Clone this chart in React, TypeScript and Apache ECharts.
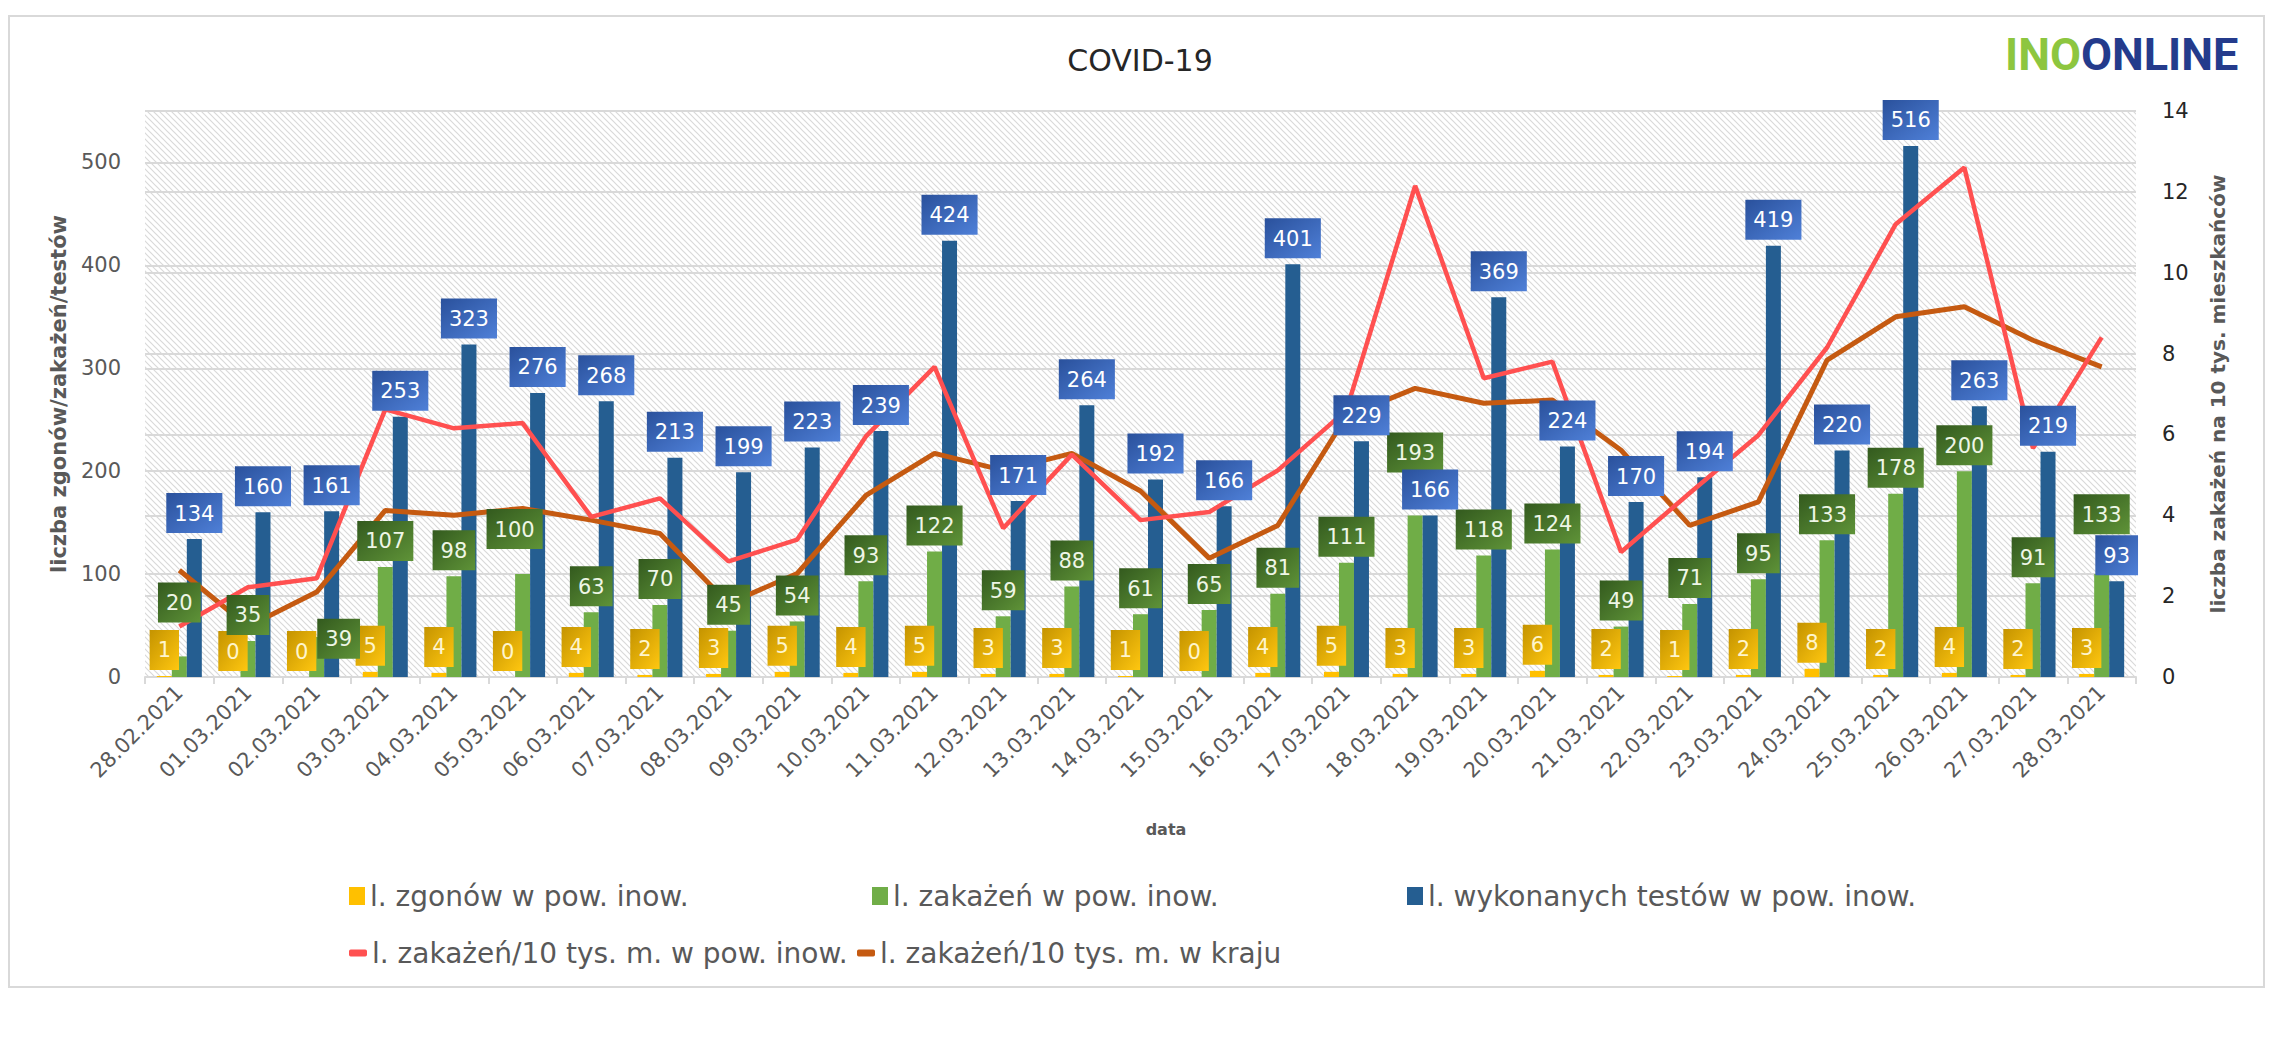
import React, { useEffect, useRef } from "react";
import * as echarts from "echarts";

const categories = [
  "28.02.2021", "01.03.2021", "02.03.2021", "03.03.2021", "04.03.2021", "05.03.2021",
  "06.03.2021", "07.03.2021", "08.03.2021", "09.03.2021", "10.03.2021", "11.03.2021",
  "12.03.2021", "13.03.2021", "14.03.2021", "15.03.2021", "16.03.2021", "17.03.2021",
  "18.03.2021", "19.03.2021", "20.03.2021", "21.03.2021", "22.03.2021", "23.03.2021",
  "24.03.2021", "25.03.2021", "26.03.2021", "27.03.2021", "28.03.2021",
];
const deaths = [1, 0, 0, 5, 4, 0, 4, 2, 3, 5, 4, 5, 3, 3, 1, 0, 4, 5, 3, 3, 6, 2, 1, 2, 8, 2, 4, 2, 3];
// bar heights as drawn in the picture
const infections = [20, 35, 39, 107, 98, 100, 63, 70, 45, 54, 93, 122, 59, 88, 61, 65, 81, 111, 157, 118, 124, 49, 71, 95, 133, 178, 200, 91, 100];
// values printed in the data labels
const infectionLabels = [20, 35, 39, 107, 98, 100, 63, 70, 45, 54, 93, 122, 59, 88, 61, 65, 81, 111, 193, 118, 124, 49, 71, 95, 133, 178, 200, 91, 133];
// bar heights as drawn in the picture
const tests = [134, 160, 161, 253, 323, 276, 268, 213, 199, 223, 239, 424, 171, 264, 192, 166, 401, 229, 157, 369, 224, 170, 194, 419, 220, 516, 263, 219, 93];
// values printed in the data labels
const testLabels = [134, 160, 161, 253, 323, 276, 268, 213, 199, 223, 239, 424, 171, 264, 192, 166, 401, 229, 166, 369, 224, 170, 194, 419, 220, 516, 263, 219, 93];
const localRate = [1.25, 2.22, 2.44, 6.62, 6.15, 6.28, 3.96, 4.42, 2.86, 3.4, 5.95, 7.67, 3.68, 5.5, 3.88, 4.08, 5.11, 6.6, 12.15, 7.39, 7.8, 3.09, 4.55, 5.98, 8.15, 11.2, 12.6, 5.66, 8.4];
const nationalRate = [2.64, 1.25, 2.1, 4.12, 4.0, 4.17, 3.88, 3.55, 1.82, 2.56, 4.49, 5.53, 5.11, 5.53, 4.6, 2.94, 3.75, 6.45, 7.14, 6.77, 6.85, 5.61, 3.75, 4.33, 7.84, 8.91, 9.16, 8.33, 7.67];
const leftTicks = { min: 0, max: 550, interval: 100 };
const rightTicks = { min: 0, max: 14, interval: 2 };

const seriesNames = [
  "l. zgonów w pow. inow.",
  "l. zakażeń w pow. inow.",
  "l. wykonanych testów w pow. inow.",
  "l. zakażeń/10 tys. m. w pow. inow.",
  "l. zakażeń/10 tys. m. w kraju",
];

// hand-moved labels in the original (styling only: pixel nudges)
const greenLabelNudges: Record<number, [number, number]> = { 0: [0, -28], 2: [22, 28], 5: [-8, -19] };

const F = "'DejaVu Sans', sans-serif";
const GREY = "#595959";

const hatchSvg =
  "data:image/svg+xml;utf8," +
  encodeURIComponent(
    "<svg xmlns='http://www.w3.org/2000/svg' width='6' height='6'><path d='M-1,-1 L7,7 M-1,5 L1,7 M5,-1 L7,1' stroke='#d9d9d9' stroke-width='1.2' fill='none'/></svg>"
  );

function grad(c1: string, c2: string) {
  return {
    type: "linear",
    x: 0,
    y: 0,
    x2: 1,
    y2: 1,
    colorStops: [
      { offset: 0, color: c1 },
      { offset: 1, color: c2 },
    ],
  };
}

function barLabel(bg: any, color: string, formatter?: any) {
  return {
    show: true,
    position: "top",
    distance: 6,
    fontFamily: F,
    fontSize: 21,
    color,
    backgroundColor: bg,
    padding: [10, 8, 9, 8],
    formatter: formatter || "{c}",
  };
}

const barCommon = { type: "bar", barWidth: 15, barGap: "0%" };

export default function App() {
  const ref = useRef<HTMLDivElement>(null);
  useEffect(() => {
    if (!ref.current) return;
    const chart = echarts.init(ref.current, undefined, { renderer: "svg" });
    const legendText = { fontFamily: F, fontSize: 28, color: GREY };
    const hidden = "rgba(0,0,0,0)";
    const option: any = {
      animation: false,
      backgroundColor: "#ffffff",
      title: {
        text: "COVID-19",
        left: "center",
        top: 40,
        textStyle: { fontFamily: F, fontSize: 30, fontWeight: "normal", color: "#262626" },
      },
      graphic: [
        {
          type: "rect",
          z: -20,
          silent: true,
          shape: { x: 9, y: 16, width: 2255, height: 971 },
          style: { fill: "#ffffff", stroke: "#d9d9d9", lineWidth: 2 },
        },
        {
          type: "rect",
          z: -10,
          silent: true,
          shape: { x: 145, y: 111, width: 1991, height: 566 },
          style: {
            fill: { image: hatchSvg, repeat: "repeat", imageWidth: 6, imageHeight: 6 },
          },
        },
        {
          type: "text",
          x: 2005,
          y: 32,
          silent: true,
          style: {
            text: "{a|INO}{b|ONLINE}",
            rich: {
              a: { fill: "#8dc63f", fontFamily: "Roboto", fontWeight: "bold", fontSize: 45 },
              b: { fill: "#243b8c", fontFamily: "Roboto", fontWeight: "bold", fontSize: 45 },
            },
          },
        },
        {
          type: "text",
          x: 1166,
          y: 829,
          silent: true,
          style: {
            text: "data",
            fill: GREY,
            fontFamily: F,
            fontWeight: "bold",
            fontSize: 16,
            align: "center",
            verticalAlign: "middle",
          },
        },
      ],
      legend: [
        { data: [seriesNames[0]], left: 349, top: 882, icon: "rect", itemWidth: 16, itemHeight: 18 },
        { data: [seriesNames[1]], left: 872, top: 882, icon: "rect", itemWidth: 16, itemHeight: 18 },
        { data: [seriesNames[2]], left: 1407, top: 882, icon: "rect", itemWidth: 16, itemHeight: 18 },
        { data: [seriesNames[3]], left: 349, top: 939, icon: "roundRect", itemWidth: 18, itemHeight: 7 },
        { data: [seriesNames[4]], left: 857, top: 939, icon: "roundRect", itemWidth: 18, itemHeight: 7 },
      ].map((l) => ({ ...l, selectedMode: false, textStyle: legendText, padding: 0 })),
      grid: { left: 145, right: 144, top: 111, bottom: 387, containLabel: false },
      xAxis: [
        {
          type: "category",
          data: categories,
          axisLine: { lineStyle: { color: "#d9d9d9", width: 2 } },
          axisTick: { show: true, length: 7, lineStyle: { color: "#d9d9d9", width: 2 } },
          axisLabel: { rotate: 45, interval: 0, fontFamily: F, fontSize: 21, color: GREY, margin: 12 },
        },
        { type: "category", data: categories, show: false },
      ],
      yAxis: [
        {
          type: "value",
          position: "left",
          ...leftTicks,
          name: "liczba zgonów/zakażeń/testów",
          nameLocation: "middle",
          nameRotate: 90,
          nameGap: 76,
          nameTextStyle: { fontFamily: F, fontWeight: "bold", fontSize: 21, color: GREY },
          axisLine: { show: false },
          axisTick: { show: false },
          axisLabel: { showMaxLabel: false, fontFamily: F, fontSize: 21, color: GREY, margin: 24 },
          splitLine: { lineStyle: { color: "#d9d9d9", width: 2 } },
        },
        {
          type: "value",
          position: "right",
          ...rightTicks,
          name: "liczba zakażeń na 10 tys. mieszkańców",
          nameLocation: "middle",
          nameRotate: 90,
          nameGap: 72,
          nameTextStyle: { fontFamily: F, fontWeight: "bold", fontSize: 20, color: GREY },
          axisLine: { show: false },
          axisTick: { show: false },
          axisLabel: { fontFamily: F, fontSize: 21, color: "#262626", margin: 26 },
          splitLine: { lineStyle: { color: "#d9d9d9", width: 2 } },
        },
      ],
      series: [
        { ...barCommon, name: seriesNames[0], data: deaths, color: "#ffc000", z: 2 },
        { ...barCommon, name: seriesNames[1], data: infections, color: "#70ad47", z: 2 },
        { ...barCommon, name: seriesNames[2], data: tests, color: "#255e91", z: 2 },
        {
          name: seriesNames[4],
          type: "line",
          yAxisIndex: 1,
          data: nationalRate,
          symbol: "none",
          color: "#c55a11",
          lineStyle: { width: 5, color: "#c55a11" },
          z: 3,
        },
        {
          name: seriesNames[3],
          type: "line",
          yAxisIndex: 1,
          data: localRate,
          symbol: "none",
          color: "#ff5050",
          lineStyle: { width: 4.5, color: "#ff5050" },
          z: 3,
        },
        // data labels, drawn above the lines (transparent bars on a hidden twin axis)
        {
          ...barCommon,
          name: "_labels_deaths",
          xAxisIndex: 1,
          data: deaths,
          itemStyle: { color: hidden },
          silent: true,
          z: 5,
          label: barLabel(grad("#c49300", "#ffc710"), "#fff5cc"),
        },
        {
          ...barCommon,
          name: "_labels_infections",
          xAxisIndex: 1,
          data: infectionLabels.map((v, i) =>
            greenLabelNudges[i] ? { value: v, label: { offset: greenLabelNudges[i] } } : v
          ),
          itemStyle: { color: hidden },
          silent: true,
          z: 6,
          label: barLabel(grad("#335a1e", "#5f9338"), "#eef6e6"),
        },
        {
          ...barCommon,
          name: "_labels_tests",
          xAxisIndex: 1,
          data: tests,
          itemStyle: { color: hidden },
          silent: true,
          z: 7,
          label: barLabel(grad("#2a519c", "#4f80d8"), "#ffffff", (p: any) => String(testLabels[p.dataIndex])),
        },
      ],
    };
    chart.setOption(option);
    return () => chart.dispose();
  }, []);
  return (
    <div
      ref={ref}
      style={{ position: "absolute", left: 0, top: 0, width: 2280, height: 1064 }}
    />
  );
}
